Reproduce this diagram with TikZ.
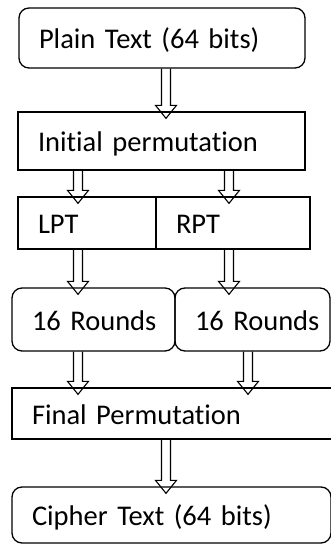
\documentclass[tikz,border=0pt]{standalone}
\usepackage{fontspec}
\setmainfont{Carlito}[Ligatures=NoCommon]
\usetikzlibrary{calc}

\tikzset{
  box/.style={draw, line width=1.3pt, inner xsep=20pt, inner ysep=0pt,
    align=left, text height=26pt, text depth=4pt,
    font=\fontsize{28.5}{34}\selectfont},
  rbox/.style={box, rounded corners=10pt},
  hollow/.style={line width=1.1pt, to path={let \p1=(\tikztostart), \p2=(\tikztotarget) in
    ({\x1-4.5pt},\y1) -- ({\x1-4.5pt},{\y2+6pt}) -- ({\x1-10.5pt},{\y2+6pt})
    -- (\x1,{\y2-7pt}) -- ({\x1+10.5pt},{\y2+6pt}) -- ({\x1+4.5pt},{\y2+6pt})
    -- ({\x1+4.5pt},\y1)}}
}

\begin{document}
\begin{tikzpicture}[x=1pt,y=1pt]
    \useasboundingbox (0,0) rectangle (331,544);

    \node[rbox, minimum height=60pt, text width=246pt] (plain) at (162,506) {Plain Text (64 bits)};
    \node[box, minimum height=58pt, text width=247pt] (init) at (161.5,403) {Initial permutation};

    \node[box, minimum height=52pt, text width=98pt] (lpt) at (87,321) {LPT};
    \node[box, minimum height=52pt, text width=114pt] (rpt) at (233,321) {RPT};

    \node[rbox, minimum height=63pt, text width=123pt] (roundsL) at (93.5,224.5) {16~Rounds};
    \node[rbox, minimum height=63pt, text width=115pt] (roundsR) at (252.5,224.5) {16~Rounds};

    \node[box, minimum height=51pt, text width=293pt] (final) at (178.5,130.5) {Final Permutation};
    \node[rbox, minimum height=56pt, text width=279pt] (cipher) at (171.5,29) {Cipher Text (64 bits)};

    % columns of the arrows
    \coordinate (colL) at (78,0);
    \coordinate (colM) at (166,0);
    \coordinate (colR) at (229,0);
    \coordinate (colR2) at (248,0);

    \draw[hollow] (plain.south -| colM) to (init.north);
    \draw[hollow] (init.south -| colL) to (lpt.north);
    \draw[hollow] (init.south -| colR) to (rpt.north);
    \draw[hollow] (lpt.south -| colL) to (roundsL.north);
    \draw[hollow] (rpt.south -| colR) to (roundsR.north);
    \draw[hollow] (roundsL.south -| colL) to (final.north);
    \draw[hollow] (roundsR.south -| colR2) to (final.north);
    \draw[hollow] (final.south -| colM) to (cipher.north);
\end{tikzpicture}
\end{document}
